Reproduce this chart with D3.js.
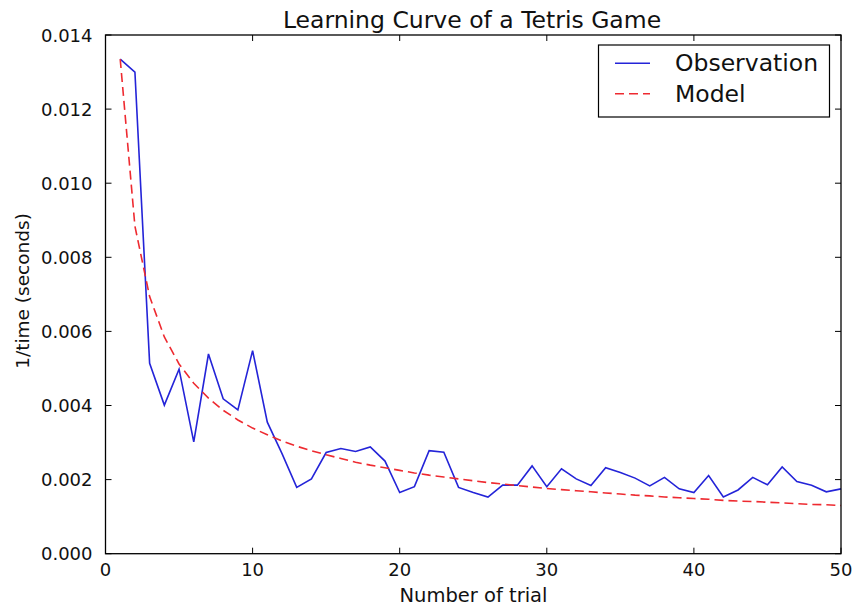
<!DOCTYPE html>
<html>
<head>
<meta charset="utf-8">
<script src="https://cdn.jsdelivr.net/npm/d3@7"></script>
<style>
  html, body { margin: 0; padding: 0; background: #fff; }
  svg { display: block; }
  text { font-family: "DejaVu Sans", sans-serif; fill: #111; }
</style>
</head>
<body>
<svg id="chart" width="854" height="608"></svg>
<script>
// ---- data ----
const trials = d3.range(1, 51);
const observation = [
  0.01335, 0.01300, 0.00514, 0.00401, 0.00498, 0.00302, 0.00539, 0.00418, 0.00388, 0.00548,
  0.00355, 0.00270, 0.00179, 0.00202, 0.00273, 0.00284, 0.00276, 0.00288, 0.00250, 0.00165,
  0.00181, 0.00278, 0.00274, 0.00179, 0.00165, 0.00153, 0.00185, 0.00185, 0.00237, 0.00181,
  0.00229, 0.00202, 0.00184, 0.00232, 0.00219, 0.00204, 0.00183, 0.00206, 0.00175, 0.00165,
  0.00211, 0.00153, 0.00172, 0.00206, 0.00186, 0.00234, 0.00195, 0.00185, 0.00167, 0.00175
];
const model = [
  0.01335, 0.00884, 0.00694, 0.00585, 0.00512, 0.00460, 0.00420, 0.00387, 0.00361, 0.00339,
  0.00321, 0.00304, 0.00290, 0.00278, 0.00267, 0.00257, 0.00247, 0.00239, 0.00232, 0.00225,
  0.00218, 0.00212, 0.00207, 0.00202, 0.00197, 0.00192, 0.00188, 0.00184, 0.00180, 0.00176,
  0.00173, 0.00170, 0.00167, 0.00164, 0.00161, 0.00158, 0.00156, 0.00153, 0.00151, 0.00149,
  0.00147, 0.00144, 0.00142, 0.00141, 0.00139, 0.00137, 0.00135, 0.00133, 0.00132, 0.00130
];
const xTicks = [0, 10, 20, 30, 40, 50];
const yTicks = [0, 0.002, 0.004, 0.006, 0.008, 0.010, 0.012, 0.014];
const seriesNames = ["Observation", "Model"];
const titleText = "Learning Curve of a Tetris Game";
const xLabel = "Number of trial";
const yLabel = "1/time (seconds)";

// ---- layout ----
const svg = d3.select("#chart");
const L = 105.5, R = 841, T = 35, B = 553.7;
const x = d3.scaleLinear().domain([0, 50]).range([L, R]);
const y = d3.scaleLinear().domain([0, 0.014]).range([B, T]);
const fs = 18;
const tickLen = 6;

// ticks (inward, all four sides)
const g = svg.append("g");
g.selectAll(".xtb").data(xTicks).enter().append("line")
  .attr("x1", d => x(d)).attr("x2", d => x(d))
  .attr("y1", B).attr("y2", B - tickLen).attr("stroke", "#000").attr("stroke-width", 1);
g.selectAll(".xtt").data(xTicks).enter().append("line")
  .attr("x1", d => x(d)).attr("x2", d => x(d))
  .attr("y1", T).attr("y2", T + tickLen).attr("stroke", "#000").attr("stroke-width", 1);
g.selectAll(".ytl").data(yTicks).enter().append("line")
  .attr("x1", L).attr("x2", L + tickLen)
  .attr("y1", d => y(d)).attr("y2", d => y(d)).attr("stroke", "#000").attr("stroke-width", 1);
g.selectAll(".ytr").data(yTicks).enter().append("line")
  .attr("x1", R).attr("x2", R - tickLen)
  .attr("y1", d => y(d)).attr("y2", d => y(d)).attr("stroke", "#000").attr("stroke-width", 1);

// tick labels
g.selectAll(".xl").data(xTicks).enter().append("text")
  .attr("x", d => x(d)).attr("y", B + 22.5)
  .attr("text-anchor", "middle").attr("font-size", fs)
  .text(d => d3.format("d")(d));
g.selectAll(".yl").data(yTicks).enter().append("text")
  .attr("x", L - 13).attr("y", d => y(d) + 6.5)
  .attr("text-anchor", "end").attr("font-size", fs)
  .text(d => d3.format(".3f")(d));

// lines
const line = (vals) => d3.line().x((d, i) => x(trials[i])).y(d => y(d))(vals);
svg.append("path").attr("d", line(observation))
  .attr("fill", "none").attr("stroke", "#2424d8").attr("stroke-width", 1.6);
svg.append("path").attr("d", line(model))
  .attr("fill", "none").attr("stroke", "#ee2a30").attr("stroke-width", 1.6)
  .attr("stroke-dasharray", "9,5");

// frame
svg.append("rect").attr("x", L).attr("y", T).attr("width", R - L).attr("height", B - T)
  .attr("fill", "none").attr("stroke", "#000").attr("stroke-width", 1.3);

// title and axis labels
svg.append("text").attr("x", 472).attr("y", 28)
  .attr("text-anchor", "middle").attr("font-size", 23.5).text(titleText);
svg.append("text").attr("x", 473.5).attr("y", 602)
  .attr("text-anchor", "middle").attr("font-size", 19.5).text(xLabel);
svg.append("text").attr("transform", `translate(29,291) rotate(-90)`)
  .attr("text-anchor", "middle").attr("font-size", 18.5).text(yLabel);

// legend
const lg = svg.append("g");
lg.append("rect").attr("x", 598.5).attr("y", 45).attr("width", 231).attr("height", 72)
  .attr("fill", "#fff").attr("stroke", "#000").attr("stroke-width", 1.2);
const legendStyles = [
  { stroke: "#2424d8", dash: null },
  { stroke: "#ee2a30", dash: "9,5" }
];
seriesNames.forEach((name, i) => {
  const yy = 63.3 + i * 30.5;
  const l = lg.append("line").attr("x1", 615).attr("x2", 650).attr("y1", yy).attr("y2", yy)
    .attr("stroke", legendStyles[i].stroke).attr("stroke-width", 1.6);
  if (legendStyles[i].dash) l.attr("stroke-dasharray", legendStyles[i].dash);
  lg.append("text").attr("x", 675).attr("y", yy + 8).attr("font-size", 23.5).text(name);
});
</script>
</body>
</html>
